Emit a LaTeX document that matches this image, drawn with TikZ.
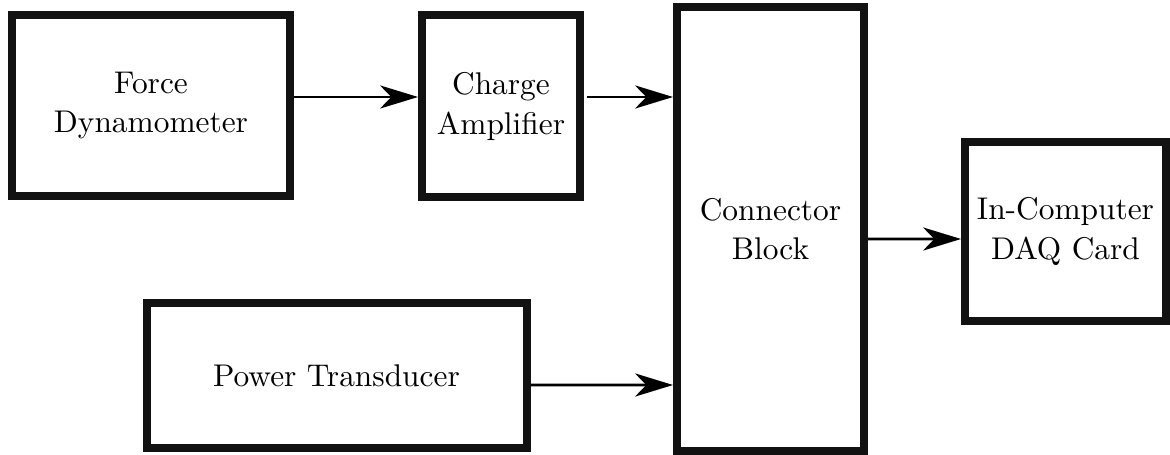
\documentclass[tikz,border=0pt]{standalone}
\usetikzlibrary{arrows.meta}
\tikzset{
  blk/.style={draw=black!93, line width=2.6pt, fill=white, align=center, inner sep=0pt, font=\fontsize{10.2}{12.7}\selectfont},
  conn/.style={line width=0.9pt, -{Stealth[length=12.3pt, width=7.5pt, inset=3.6pt]}}
}
\begin{document}
\begin{tikzpicture}[x=0.325pt, y=-0.325pt]
\useasboundingbox (0,0) rectangle (1170,455);
\node[blk, minimum width=278*0.325pt, minimum height=181*0.325pt] (fd) at (151,105.5) {Force\\Dynamometer};
\node[blk, minimum width=158*0.325pt, minimum height=182*0.325pt] (ca) at (501,106.5) {Charge\\Amplifier};
\node[blk, minimum width=187*0.325pt, minimum height=444*0.325pt] (cb) at (770.5,229) {Connector\\Block};
\node[blk, minimum width=201*0.325pt, minimum height=179*0.325pt] (daq) at (1065.5,231.5) {In-Computer\\DAQ Card};
\node[blk, minimum width=380*0.325pt, minimum height=145*0.325pt] (pt) at (336.5,375.3) {Power Transducer};
\draw[conn] ([yshift=8.5*0.325pt]fd.east) -- ([yshift=9.5*0.325pt]ca.west);
\draw[conn] ([xshift=3*0.325pt, yshift=9.5*0.325pt]ca.east) -- ([yshift=132*0.325pt]cb.west);
\draw[conn] ([yshift=-10*0.325pt]cb.east) -- ([yshift=-7.5*0.325pt]daq.west);
\draw[conn] ([yshift=-9.7*0.325pt]pt.east) -- ([yshift=-156*0.325pt]cb.west);
\end{tikzpicture}
\end{document}
